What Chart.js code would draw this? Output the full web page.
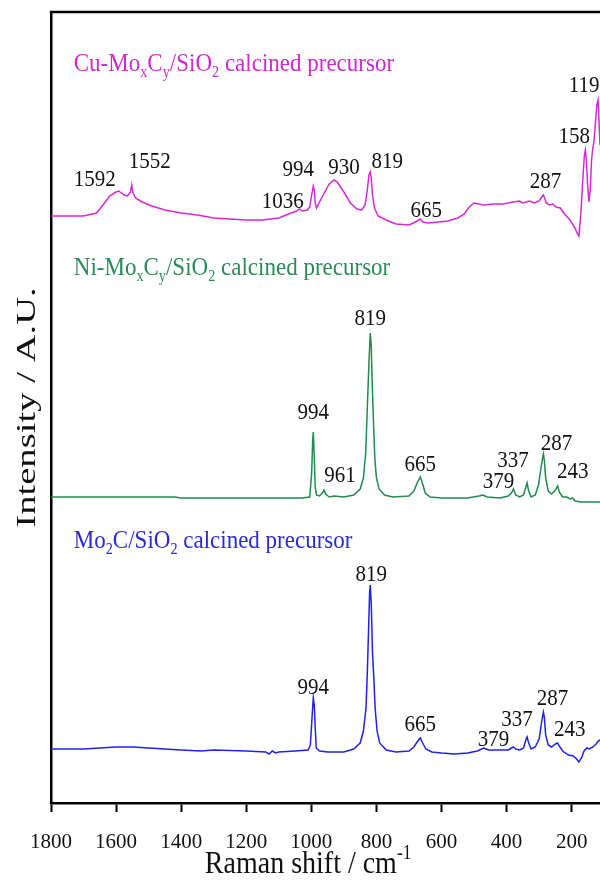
<!DOCTYPE html>
<html>
<head>
<meta charset="utf-8">
<title>Raman spectra of calcined precursors</title>
<script src="https://cdn.jsdelivr.net/npm/chart.js@4.4.1/dist/chart.umd.min.js"></script>
<style>
  html, body { margin: 0; padding: 0; background: #fff; overflow: hidden; }
  #wrap { width: 600px; height: 884px; }
</style>
</head>
<body>
<div id="wrap"><canvas id="ramanChart" width="600" height="884"></canvas></div>
<script>
// Raman shift ticks (cm-1)
const xTicks = [1800, 1600, 1400, 1200, 1000, 800, 600, 400, 200];

// Cu-MoxCy/SiO2 calcined precursor
const cuShift = [1800, 1700, 1660, 1640, 1620, 1600, 1592, 1575, 1565, 1556, 1552, 1548, 1540, 1520, 1490, 1450,
  1400, 1350, 1300, 1250, 1200, 1150, 1100, 1070, 1045, 1036, 1028, 1012, 1005, 999, 994, 991, 988, 984, 975,
  960, 945, 930, 920, 900, 880, 860, 845, 835, 828, 823, 819, 816, 812, 806, 795, 770, 740, 700, 680, 665, 658,
  640, 610, 580, 550, 530, 515, 500, 470, 440, 410, 380, 360, 350, 330, 315, 300, 292, 287, 282, 278, 268, 258,
  248, 235, 222, 205, 190, 182, 178, 172, 166, 161, 158, 155, 151, 147, 143, 139, 135, 131, 127, 123, 119, 116, 113];
const cuIntensity = [587, 587, 590, 598, 607, 611, 612, 608, 607, 611, 618, 610, 605, 601, 597, 593,
  590, 588, 585, 584, 583, 583, 585, 589, 592, 594, 592, 593, 596, 608, 617, 613, 600, 595, 601,
  610, 619, 623, 621, 611, 600, 594, 593, 598, 613, 628, 631, 625, 608, 595, 587, 583, 579, 578, 581, 584, 581,
  580, 581, 582, 585, 589, 596, 600, 598, 599, 599, 601, 602, 600, 602, 600, 602, 606, 608, 604, 600, 598, 599,
  596, 595, 589, 583, 575, 569, 567, 588, 623, 648, 653, 643, 618, 601, 613, 643, 655, 663, 680, 698, 703, 682, 658];

// Ni-MoxCy/SiO2 calcined precursor
const niShift = [1800, 1700, 1650, 1600, 1500, 1420, 1400, 1300, 1200, 1100, 1030, 1005, 999, 996, 994, 991, 988,
  984, 975, 966, 961, 956, 945, 930, 900, 870, 850, 840, 833, 828, 823, 819, 816, 813, 809, 805, 800, 792, 775,
  750, 700, 685, 675, 665, 658, 650, 635, 600, 520, 485, 473, 460, 420, 395, 385, 379, 372, 360, 348, 340, 337,
  333, 325, 312, 302, 293, 287, 284, 280, 272, 262, 250, 243, 238, 228, 215, 205, 197, 190, 170, 140, 113];
const niIntensity = [306, 306, 306, 306, 306, 306, 305, 305, 305, 305, 305, 306, 330, 362, 371, 345, 315,
  308, 307, 310, 313, 309, 306, 307, 306, 308, 314, 325, 350, 395, 440, 470, 458, 420, 380, 345, 325, 314, 308,
  306, 307, 312, 320, 326, 319, 310, 306, 305, 305, 307, 308, 306, 305, 307, 310, 314, 308, 306, 308, 317, 320,
  313, 306, 308, 318, 338, 349, 343, 325, 312, 309, 313, 317, 311, 306, 306, 304, 305, 302, 301, 301, 301];

// Mo2C/SiO2 calcined precursor
const moShift = [1800, 1700, 1650, 1600, 1550, 1500, 1400, 1340, 1300, 1200, 1140, 1130, 1120, 1110, 1100, 1050,
  1010, 1003, 998, 994, 991, 988, 985, 975, 950, 900, 870, 850, 840, 832, 828, 824, 821, 819, 816, 812, 808, 804,
  798, 790, 770, 740, 700, 685, 675, 665, 658, 648, 630, 600, 560, 520, 490, 470, 455, 420, 395, 385, 379, 372,
  360, 348, 340, 337, 333, 325, 312, 300, 292, 287, 284, 280, 272, 262, 250, 243, 238, 228, 210, 195, 185, 178,
  170, 162, 153, 145, 135, 125, 118, 113];
const moIntensity = [54, 54, 55, 56, 56, 55, 53, 52, 53, 52, 51, 49, 52, 50, 51, 52,
  53, 58, 85, 105, 98, 75, 55, 52, 51, 51, 54, 60, 72, 95, 130, 175, 210, 218, 200, 150, 125, 95,
  72, 60, 53, 51, 52, 56, 61, 65, 60, 54, 51, 50, 49, 50, 52, 55, 53, 53, 53, 55, 56, 54,
  53, 55, 64, 66, 61, 54, 56, 64, 82, 91, 86, 68, 58, 56, 59, 60, 57, 52, 48, 47, 44, 41,
  45, 52, 55, 54, 56, 59, 62, 63];

// labelled band positions (cm-1)
const cuPeaks = [1592, 1552, 1036, 994, 930, 819, 665, 287, 158, 119];
const niPeaks = [994, 961, 819, 665, 379, 337, 287, 243];
const moPeaks = [994, 819, 665, 379, 337, 287, 243];

// label nudges in px, one per band
const cuNudge = [[-24, -13], [18, -25], [-17, -9], [-15, -18], [10, -14], [17, -12], [6, -10], [2, -15], [-11, -15], [-14, -16]];
const niNudge = [[0, -21], [16, -16], [0, -16], [0, -14], [-15, -9], [-14, -24], [13, -12], [15, -16]];
const moNudge = [[0, -12], [1, -12], [0, -15], [-20, -9], [-10, -19], [9, -15], [12, -15]];

const FONT = '"Liberation Serif", "Times New Roman", serif';

const series = [
  {
    name: 'Cu-MoxCy/SiO2', shift: cuShift, intensity: cuIntensity, peaks: cuPeaks, nudge: cuNudge,
    color: '#d42ad4', textColor: '#cc2acc', tag: [1730, 739],
    runs: [{t: 'Cu-Mo'}, {t: 'x', sub: true}, {t: 'C'}, {t: 'y', sub: true}, {t: '/SiO'}, {t: '2', sub: true}, {t: ' calcined precursor'}]
  },
  {
    name: 'Ni-MoxCy/SiO2', shift: niShift, intensity: niIntensity, peaks: niPeaks, nudge: niNudge,
    color: '#1f8c4e', textColor: '#2a8a58', tag: [1730, 535],
    runs: [{t: 'Ni-Mo'}, {t: 'x', sub: true}, {t: 'C'}, {t: 'y', sub: true}, {t: '/SiO'}, {t: '2', sub: true}, {t: ' calcined precursor'}]
  },
  {
    name: 'Mo2C/SiO2', shift: moShift, intensity: moIntensity, peaks: moPeaks, nudge: moNudge,
    color: '#2222e6', textColor: '#2a2ad8', tag: [1730, 262],
    runs: [{t: 'Mo'}, {t: '2', sub: true}, {t: 'C/SiO'}, {t: '2', sub: true}, {t: ' calcined precursor'}]
  }
];

// draws text made of plain/sub/superscript runs; y is the alphabetic baseline
function drawRuns(ctx, runs, x, y, size, color, align, stretch) {
  ctx.save();
  ctx.fillStyle = color;
  ctx.textBaseline = 'alphabetic';
  ctx.textAlign = 'left';
  let total = 0;
  const widths = runs.map(r => {
    ctx.font = ((r.sub || r.sup) ? size * 0.62 : size) + 'px ' + FONT;
    const w = ctx.measureText(r.t).width;
    total += w;
    return w;
  });
  let cx = align === 'center' ? -total / 2 : 0;
  ctx.translate(x, y);
  ctx.scale(1, stretch || 1);
  runs.forEach((r, i) => {
    ctx.font = ((r.sub || r.sup) ? size * 0.62 : size) + 'px ' + FONT;
    const dy = r.sub ? size * 0.22 : r.sup ? -size * 0.42 : 0;
    ctx.fillText(r.t, cx, dy);
    cx += widths[i];
  });
  ctx.restore();
}

const annotations = {
  id: 'annotations',
  afterDraw(chart) {
    const {ctx, chartArea, scales: {x, y}} = chart;

    // top frame line
    ctx.save();
    ctx.strokeStyle = '#000';
    ctx.lineWidth = 2.5;
    ctx.beginPath();
    ctx.moveTo(chartArea.left - 1.25, chartArea.top);
    ctx.lineTo(chartArea.right, chartArea.top);
    ctx.stroke();
    ctx.restore();

    series.forEach(s => {
      // sample name
      const tx = x.getPixelForValue(s.tag[0]);
      const ty = y.getPixelForValue(s.tag[1]);
      drawRuns(ctx, s.runs, tx, ty + 7, 23, s.textColor, 'left', 1.12);

      // band positions
      s.peaks.forEach((p, i) => {
        const k = s.shift.indexOf(p);
        const px = x.getPixelForValue(p) + s.nudge[i][0];
        const py = y.getPixelForValue(s.intensity[k]) + s.nudge[i][1];
        drawRuns(ctx, [{t: String(p)}], px, py + 7.5, 21, '#111', 'center', 1.08);
      });
    });

    // axis titles
    drawRuns(ctx, [{t: 'Raman shift / cm'}, {t: '-1', sup: true}], x.getPixelForValue(1010), 873, 28, '#111', 'center', 1.15);

    ctx.save();
    ctx.translate(35, (chartArea.top + chartArea.bottom) / 2);
    ctx.rotate(-Math.PI / 2);
    ctx.scale(1.38, 1);
    ctx.font = '28px ' + FONT;
    ctx.fillStyle = '#111';
    ctx.textAlign = 'center';
    ctx.textBaseline = 'alphabetic';
    ctx.fillText('Intensity / A.U.', 0, 0);
    ctx.restore();
  }
};

const ctx = document.getElementById('ramanChart').getContext('2d');
const ramanChart = new Chart(ctx, {
  type: 'line',
  data: {
    datasets: series.map(s => ({
      label: s.name,
      data: s.shift.map((v, i) => ({x: v, y: s.intensity[i]})),
      borderColor: s.color,
      borderWidth: 1.5,
      pointRadius: 0,
      tension: 0,
      fill: false
    }))
  },
  options: {
    responsive: false,
    animation: false,
    devicePixelRatio: 1,
    layout: {padding: {top: 12, left: 0, right: 0, bottom: 0}},
    plugins: {legend: {display: false}, tooltip: {enabled: false}},
    scales: {
      x: {
        type: 'linear',
        reverse: true,
        min: 113,
        max: 1800,
        afterBuildTicks: axis => { axis.ticks = xTicks.map(v => ({value: v})); },
        afterFit: axis => {
          axis.height = 81;
          // plot runs to the right edge; labels fit without extra side padding
          axis.paddingLeft = 0;
          axis.paddingRight = 0;
        },
        ticks: {
          font: {family: FONT, size: 21}, color: '#111', padding: 18, maxRotation: 0, autoSkip: false,
          callback: v => String(v)
        },
        grid: {display: true, drawOnChartArea: false, drawTicks: true, tickLength: 9, tickWidth: 2, tickColor: '#000'},
        border: {display: true, color: '#000', width: 2.5}
      },
      y: {
        min: 0,
        max: 791,
        ticks: {display: false},
        grid: {display: false},
        border: {display: true, color: '#000', width: 2.5},
        afterFit: axis => { axis.width = 51; }
      }
    }
  },
  plugins: [annotations]
});
</script>
</body>
</html>
